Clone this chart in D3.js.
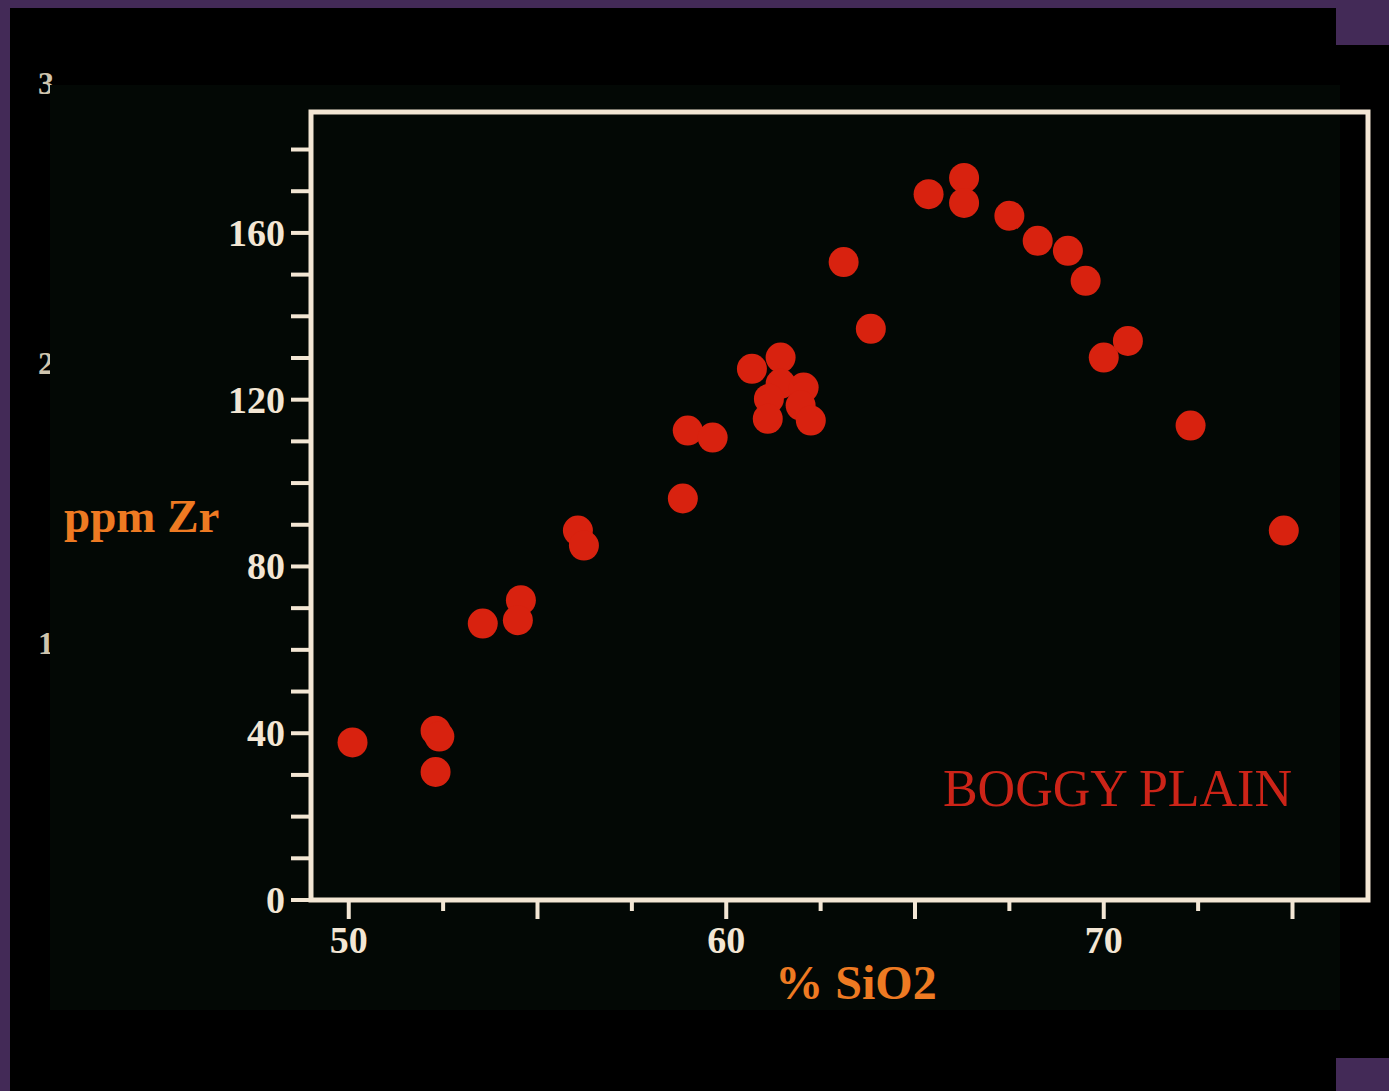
<!DOCTYPE html>
<html>
<head>
<meta charset="utf-8">
<script src="https://cdn.jsdelivr.net/npm/d3@7"></script>
<style>
  html, body { margin: 0; padding: 0; background: #432a57; }
  svg { display: block; }
</style>
</head>
<body>
<div id="chart"></div>
<script>
// Boggy Plain suite: SiO2 (%) vs Zr (ppm)
const sio2 = [50.1, 52.3, 52.4, 52.3, 53.55, 54.56, 54.48, 56.07, 56.23,
              58.85, 58.98, 59.64,
              60.68, 61.44, 61.44, 61.13, 61.1, 62.05, 61.97, 62.24,
              63.11, 63.83,
              65.36, 66.3, 66.3, 67.5, 68.25, 69.05, 69.52, 70.0, 70.64,
              72.3, 74.77];
const zr   = [37.8, 40.6, 39.2, 30.7, 66.3, 71.9, 67.1, 88.6, 85.0,
              96.3, 112.6, 110.9,
              127.4, 130.1, 123.8, 120.2, 115.4, 122.9, 118.6, 115.0,
              153.0, 137.0,
              169.3, 173.2, 167.2, 164.1, 158.1, 155.7, 148.5, 130.1, 134.1,
              113.8, 88.6];

const xTicks = [50, 52.5, 55, 57.5, 60, 62.5, 65, 67.5, 70, 72.5, 75];
const xMajor = [50, 55, 60, 65, 70, 75];
const xLabels = [50, 60, 70];
const yTicks = d3.range(0, 190, 10);
const yLabels = [0, 40, 80, 120, 160];
const ghostLabels = ['3', '2', '1'];

const W = 1389, H = 1091;

const svg = d3.select('#chart')
  .append('svg')
    .attr('width', W)
    .attr('height', H);

// slide background (black with purple edges showing)
svg.append('rect').attr('x', 10).attr('y', 8).attr('width', 1326).attr('height', H - 8).attr('fill', '#000');
svg.append('rect').attr('x', 1336).attr('y', 45).attr('width', 53).attr('height', 1013).attr('fill', '#000');

// faint leftovers of an underlying slide, half hidden by the panel
svg.selectAll('.ghost')
  .data(ghostLabels)
  .join('text')
    .attr('class', 'ghost')
    .attr('x', 38)
    .attr('y', (d, i) => 94 + i * 280)
    .attr('font-family', 'Liberation Serif, serif')
    .attr('font-weight', 'bold')
    .attr('font-size', 32)
    .attr('fill', '#cfc4ae')
    .text(d => d);

// slightly lighter panel
svg.append('rect')
  .attr('x', 50).attr('y', 85)
  .attr('width', 1290).attr('height', 925)
  .attr('fill', '#030805');

const x = d3.scaleLinear().domain([49, 77]).range([311, 1368]);
const y = d3.scaleLinear().domain([0, 189]).range([900, 112]);

const ink = '#f3e6d4';
const g = svg.append('g');

// y ticks
g.selectAll('.ytick')
  .data(yTicks)
  .join('line')
    .attr('class', 'ytick')
    .attr('x1', x(49) - 20)
    .attr('x2', x(49))
    .attr('y1', d => y(d))
    .attr('y2', d => y(d))
    .attr('stroke', ink)
    .attr('stroke-width', 4);

g.selectAll('.ylab')
  .data(yLabels)
  .join('text')
    .attr('class', 'ylab')
    .attr('x', x(49) - 26)
    .attr('y', d => y(d))
    .attr('dy', '0.34em')
    .attr('text-anchor', 'end')
    .attr('font-family', 'Liberation Serif, serif')
    .attr('font-weight', 'bold')
    .attr('font-size', 38)
    .attr('fill', ink)
    .text(d => d);

// x ticks
g.selectAll('.xtick')
  .data(xTicks)
  .join('line')
    .attr('class', 'xtick')
    .attr('x1', d => x(d))
    .attr('x2', d => x(d))
    .attr('y1', y(0))
    .attr('y2', d => y(0) + (xMajor.includes(d) ? 19 : 11))
    .attr('stroke', ink)
    .attr('stroke-width', 4);

g.selectAll('.xlab')
  .data(xLabels)
  .join('text')
    .attr('class', 'xlab')
    .attr('x', d => x(d))
    .attr('y', 953)
    .attr('text-anchor', 'middle')
    .attr('font-family', 'Liberation Serif, serif')
    .attr('font-weight', 'bold')
    .attr('font-size', 38)
    .attr('fill', ink)
    .text(d => d);

// frame
g.append('rect')
  .attr('x', x(49))
  .attr('y', y(189))
  .attr('width', x(77) - x(49))
  .attr('height', y(0) - y(189))
  .attr('fill', 'none')
  .attr('stroke', ink)
  .attr('stroke-width', 5);

// dots
g.selectAll('circle')
  .data(sio2.map((s, i) => ({ s: s, z: zr[i] })))
  .join('circle')
    .attr('cx', d => x(d.s))
    .attr('cy', d => y(d.z))
    .attr('r', 15)
    .attr('fill', '#d8220f');

// axis titles
svg.append('text')
  .attr('x', 64)
  .attr('y', 532)
  .attr('font-family', 'Liberation Serif, serif')
  .attr('font-weight', 'bold')
  .attr('font-size', 47)
  .attr('fill', '#ee7a22')
  .text('ppm Zr');

svg.append('text')
  .attr('x', 856)
  .attr('y', 999)
  .attr('text-anchor', 'middle')
  .attr('font-family', 'Liberation Serif, serif')
  .attr('font-weight', 'bold')
  .attr('font-size', 48)
  .attr('fill', '#ee7a22')
  .text('% SiO2');

svg.append('text')
  .attr('x', 1292)
  .attr('y', 806)
  .attr('text-anchor', 'end')
  .attr('font-family', 'Liberation Serif, serif')
  .attr('font-size', 52)
  .attr('fill', '#cc2418')
  .text('BOGGY PLAIN');
</script>
</body>
</html>
